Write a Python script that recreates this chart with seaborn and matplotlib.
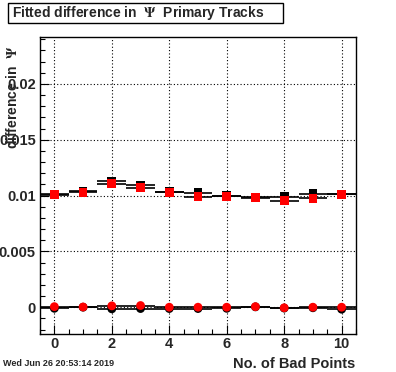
import numpy as np
import pandas as pd
import matplotlib
matplotlib.use("Agg")
import matplotlib.pyplot as plt
import matplotlib.patches as patches
from matplotlib.ticker import MultipleLocator, FixedLocator, FixedFormatter
import seaborn as sns

# number of bad points per bin
bins = list(range(11))

# fitted difference, upper group (squares) and lower group (circles)
upper_black = [0.01010, 0.01040, 0.01130, 0.01092, 0.01035, 0.01024, 0.01000, 0.00980, 0.00990, 0.01015, 0.01012]
upper_red = [0.01006, 0.01030, 0.01105, 0.01070, 0.01030, 0.00990, 0.00994, 0.00985, 0.00955, 0.00976, 0.01012]
lower_black = [-0.00010, 0.00000, -0.00015, -0.00012, -0.00012, -0.00012, -0.00010, 0.00003, -0.00008, -0.00005, -0.00018]
lower_red = [0.00005, 0.00002, 0.00012, 0.00015, 0.00000, 0.00000, 0.00000, 0.00005, -0.00005, 0.00000, 0.00000]

ytick_vals = [0, 0.005, 0.01, 0.015, 0.02]
ytick_labels = ["0", "0.005", "0.01", "0.015", "0.02"]

sns.set_style("ticks")
plt.rcParams['font.family'] = ['Liberation Sans', 'DejaVu Sans']
plt.rcParams['font.weight'] = 'bold'
plt.rcParams['mathtext.fontset'] = 'stix'

df = pd.DataFrame({
    'bin': bins * 4,
    'value': upper_black + upper_red + lower_black + lower_red,
    'series': ['ub'] * 11 + ['ur'] * 11 + ['lb'] * 11 + ['lr'] * 11,
})

fig = plt.figure(figsize=(3.96, 3.72), dpi=100)
ax = fig.add_axes([40 / 396, 38 / 372, 316 / 396, 297 / 372])

# bin-wide horizontal bars
for s in ['ub', 'ur', 'lb', 'lr']:
    sub = df[df['series'] == s]
    ax.hlines(sub['value'], sub['bin'] - 0.5, sub['bin'] + 0.5, color='black', lw=1.2, zorder=2)

styles = {'ub': ('black', 's'), 'ur': ('red', 's'), 'lb': ('black', 'o'), 'lr': ('red', 'o')}
for s in ['ub', 'lb', 'ur', 'lr']:
    col, mk = styles[s]
    sns.scatterplot(data=df[df['series'] == s], x='bin', y='value', color=col, marker=mk,
                    s=40, edgecolor='none', linewidth=0, ax=ax, zorder=3, legend=False)

ax.set_xlim(-0.5, 10.5)
ax.set_ylim(-0.0024, 0.0242)
ax.xaxis.set_major_locator(MultipleLocator(2))
ax.xaxis.set_minor_locator(MultipleLocator(0.5))
ax.yaxis.set_major_locator(FixedLocator(ytick_vals))
ax.yaxis.set_major_formatter(FixedFormatter(ytick_labels))
ax.yaxis.set_minor_locator(MultipleLocator(0.001))
ax.tick_params(which='both', direction='in', top=False, right=False, color='black', width=0.8)
ax.tick_params(which='major', length=6.5)
ax.tick_params(which='minor', length=3.3)
ax.tick_params(axis='x', pad=2, labelsize=10.5)
ax.tick_params(axis='y', pad=3, labelsize=10.5)
ax.grid(True, which='major', color='black', linestyle=(0, (1, 2)), lw=0.8)
for sp in ax.spines.values():
    sp.set_color('black')
    sp.set_linewidth(1)
ax.set_xlabel('')
ax.set_ylabel('difference in  $\\Psi$', fontsize=10, fontweight='bold', loc='top')
ax.yaxis.set_label_coords(-0.062, 0.97)

fig.text(355 / 396, 1 - 364 / 372, 'No. of Bad Points', ha='right', va='center', fontsize=10.5, fontweight='bold')
fig.text(3 / 396, 1 - 364 / 372, 'Wed Jun 26 20:53:14 2019', ha='left', va='center', fontsize=6.5, fontweight='bold')

# title box
fig.patches.append(patches.Rectangle((8 / 396, 1 - 23 / 372), 275 / 396, 20 / 372,
                                     transform=fig.transFigure, fc='white', ec='black', lw=1))
fig.text(12 / 396, 1 - 13 / 372, 'Fitted difference in  $\\Psi$  Primary Tracks', ha='left', va='center',
         fontsize=10, fontweight='bold')

fig.savefig('out.png', dpi=100)
